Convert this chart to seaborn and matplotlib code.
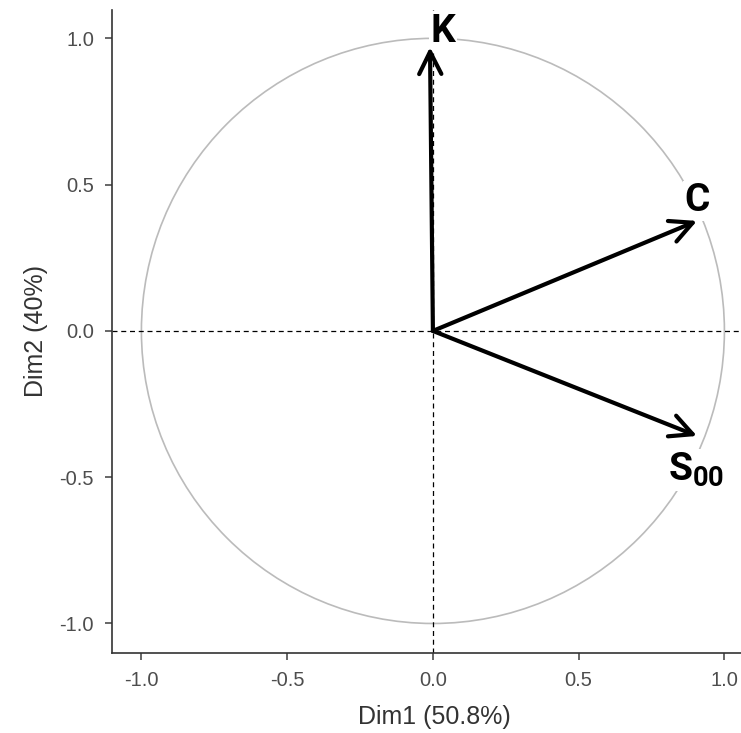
import numpy as np
import matplotlib
matplotlib.use("Agg")
import matplotlib.pyplot as plt
import seaborn as sns

# variable coordinates on the first two dimensions
variables = ["K", "C", "S00"]
dim1 = [-0.01, 0.906, 0.906]
dim2 = [0.97, 0.376, -0.359]

# label positions (slightly outside the arrow tips)
label_text = ["K", "C", r"$\mathrm{S}_{00}$"]
label_x = [0.034, 0.906, 0.902]
label_y = [1.025, 0.445, -0.475]

x_ticks = [-1.0, -0.5, 0.0, 0.5, 1.0]
y_ticks = [-1.0, -0.5, 0.0, 0.5, 1.0]
x_title = "Dim1 (50.8%)"
y_title = "Dim2 (40%)"

sns.set_style("ticks")
plt.rcParams['font.family'] = ['Liberation Sans', 'DejaVu Sans']
plt.rcParams['axes.unicode_minus'] = False
plt.rcParams['mathtext.fontset'] = 'custom'
plt.rcParams['mathtext.rm'] = 'Roboto:bold'
plt.rcParams['mathtext.it'] = 'Roboto:bold'

fig = plt.figure(figsize=(7.41, 7.33), dpi=100)
# the panel runs a little past the right edge of the image
ax = fig.add_axes([0.1511, 0.1091, 0.869, 0.8773])

# correlation circle
circle = plt.Circle((0, 0), 1, fill=False, color="#bbbbbb", lw=1.2, zorder=1)
ax.add_patch(circle)

# reference lines
ax.axhline(0, color="black", ls=(0, (4, 3)), lw=0.9, zorder=2)
ax.axvline(0, color="black", ls=(0, (4, 3)), lw=0.9, zorder=2)

# arrows
for x, y in zip(dim1, dim2):
    ax.annotate("", xy=(x, y), xytext=(0, 0),
                arrowprops=dict(arrowstyle="->", color="black", lw=3.0,
                                mutation_scale=40, shrinkA=0, shrinkB=0),
                zorder=4)

# labels
for t, x, y in zip(label_text, label_x, label_y):
    ax.text(x, y, t, ha="center", va="center", fontsize=28,
            fontfamily="Roboto", fontweight="bold", color="black",
            bbox=dict(facecolor="white", edgecolor="none", pad=1.0),
            zorder=3)

ax.set_xlim(-1.101, 1.108)
ax.set_ylim(-1.101, 1.097)
ax.set_xticks(x_ticks)
ax.set_yticks(y_ticks)
ax.set_xticklabels([f"{v:.1f}" for v in x_ticks])
ax.set_yticklabels([f"{v:.1f}" for v in y_ticks])
ax.tick_params(labelsize=14.5, colors="#4d4d4d", length=5, width=1.2, pad=8)
ax.set_xlabel(x_title, fontsize=18, color="#333333", labelpad=11)
ax.set_ylabel(y_title, fontsize=18, color="#333333", labelpad=8)
for s in ["left", "bottom"]:
    ax.spines[s].set_color("#333333")
    ax.spines[s].set_linewidth(1.2)
sns.despine(ax=ax)

fig.savefig("out.png", dpi=100)
